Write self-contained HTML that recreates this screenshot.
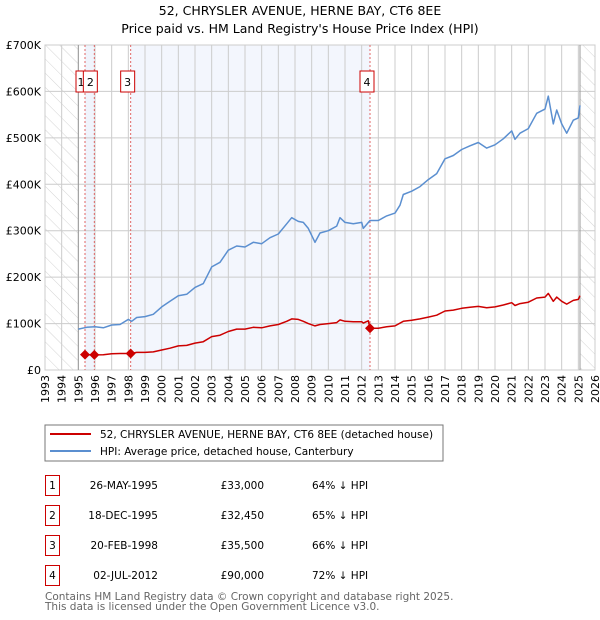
<!DOCTYPE html>
<html><head><meta charset="utf-8"><style>
body{margin:0;background:#fff;font-family:"DejaVu Sans","Liberation Sans",sans-serif;}
#wrap{position:relative;width:600px;height:620px;overflow:hidden;}
</style></head><body><div id="wrap">
<svg id="svg" width="600" height="620" xmlns="http://www.w3.org/2000/svg" font-family="DejaVu Sans, Liberation Sans, sans-serif">
<defs><pattern id="hatch" width="10" height="10" patternUnits="userSpaceOnUse" patternTransform="rotate(-45)"><line x1="0" y1="0" x2="0" y2="10" stroke="#d4d4d4" stroke-width="1"/></pattern></defs>
<text x="300" y="15" text-anchor="middle" font-size="12.5" fill="#000">52, CHRYSLER AVENUE, HERNE BAY, CT6 8EE</text>
<text x="300" y="33" text-anchor="middle" font-size="12.5" fill="#000">Price paid vs. HM Land Registry's House Price Index (HPI)</text>
<g id="plot"></g>
<rect x="45" y="425" width="398" height="36" fill="#fff" stroke="#777"/>
<line x1="50" y1="434" x2="91" y2="434" stroke="#cc0000" stroke-width="2"/>
<text x="100" y="438" font-size="10.5">52, CHRYSLER AVENUE, HERNE BAY, CT6 8EE (detached house)</text>
<line x1="50" y1="451" x2="91" y2="451" stroke="#5b8fd0" stroke-width="2"/>
<text x="100" y="455" font-size="10.5">HPI: Average price, detached house, Canterbury</text>
<g id="table" font-size="10.5"></g>
<text x="45" y="600" font-size="10.5" fill="#666">Contains HM Land Registry data © Crown copyright and database right 2025.</text>
<text x="45" y="610" font-size="10.5" fill="#666">This data is licensed under the Open Government Licence v3.0.</text>
</svg></div>
<script>
const hpiYears=[1995.0,1995.5,1996,1996.5,1997,1997.5,1998,1998.2,1998.5,1999,1999.5,2000,2000.5,2001,2001.5,2002,2002.5,2003,2003.5,2004,2004.5,2005,2005.5,2006,2006.5,2007,2007.5,2007.8,2008.2,2008.5,2008.8,2009.2,2009.5,2010,2010.5,2010.7,2011,2011.5,2012,2012.1,2012.5,2013,2013.5,2014,2014.3,2014.5,2015,2015.5,2016,2016.5,2017,2017.5,2018,2018.5,2019,2019.5,2020,2020.5,2021,2021.2,2021.5,2022,2022.5,2023,2023.2,2023.5,2023.7,2024,2024.3,2024.7,2025,2025.1];
const hpiValues=[88,92,93,91,97,98,109,105,113,115,120,136,148,160,163,178,186,222,232,258,267,265,275,272,285,293,315,328,320,318,305,275,295,300,310,328,318,315,318,305,322,322,332,338,355,378,385,395,410,423,455,462,475,483,490,478,485,498,515,497,510,520,553,562,590,530,560,530,510,538,543,570];
const priceYears=[1995.4,1995.96,1996.5,1997,1997.5,1998.14,1998.5,1999,1999.5,2000,2000.5,2001,2001.5,2002,2002.5,2003,2003.5,2004,2004.5,2005,2005.5,2006,2006.5,2007,2007.5,2007.8,2008.2,2008.5,2008.8,2009.2,2009.5,2010,2010.5,2010.7,2011,2011.5,2012,2012.1,2012.4,2012.5,2013,2013.5,2014,2014.5,2015,2015.5,2016,2016.5,2017,2017.5,2018,2018.5,2019,2019.5,2020,2020.5,2021,2021.2,2021.5,2022,2022.5,2023,2023.2,2023.5,2023.7,2024,2024.3,2024.7,2025,2025.1];
const priceValues=[33,32.5,33,35,35.5,35.5,38,38,39,43,47,52,53,58,61,72,75,83,88,88,92,91,95,98,105,110,109,105,100,95,98,100,102,108,105,104,104,101,106,90,90,93,95,105,107,110,114,118,127,129,133,135,137,134,136,140,145,139,143,146,155,157,165,148,157,148,142,150,152,160];
const saleLabels=["1","2","3","4"];
const saleYears=[1995.4,1995.96,1998.14,2012.5];
const saleValues=[33,32.45,35.5,90];
const saleDates=["26-MAY-1995","18-DEC-1995","20-FEB-1998","02-JUL-2012"];
const salePrices=["£33,000","£32,450","£35,500","£90,000"];
const saleHpi=["64% ↓ HPI","65% ↓ HPI","66% ↓ HPI","72% ↓ HPI"];
const yTicks=[0,100,200,300,400,500,600,700];
const yTickLabels=["£0","£100K","£200K","£300K","£400K","£500K","£600K","£700K"];
const xTicks=[1993,1994,1995,1996,1997,1998,1999,2000,2001,2002,2003,2004,2005,2006,2007,2008,2009,2010,2011,2012,2013,2014,2015,2016,2017,2018,2019,2020,2021,2022,2023,2024,2025,2026];

const L=45,R=595,T=45,B=370,X0=1993,X1=2026,YMAX=700;
const xs=v=>L+(v-X0)/(X1-X0)*(R-L);
const ys=v=>B-v/YMAX*(B-T);
const NS="http://www.w3.org/2000/svg";
const plot=document.getElementById('plot');
function mk(tag,attrs,parent){const e=document.createElementNS(NS,tag);for(const k in attrs)e.setAttribute(k,attrs[k]);(parent||plot).appendChild(e);return e;}

let e;
e=mk('rect',{x:xs(saleYears[0]),y:T,width:xs(saleYears[1])-xs(saleYears[0]),height:B-T,fill:'#f0f4fc'});


e=mk('rect',{x:xs(saleYears[2]),y:T,width:xs(saleYears[3])-xs(saleYears[2]),height:B-T,fill:'#f3f6fd'});


e=mk('rect',{x:L,y:T,width:xs(1995)-L,height:B-T,fill:'url(#hatch)'});


e=mk('rect',{x:xs(2025.1),y:T,width:R-xs(2025.1),height:B-T,fill:'url(#hatch)'});



xTicks.forEach((t,i)=>{
  e=mk('line',{x1:xs(t),x2:xs(t),y1:T,y2:B,stroke:'#cccccc','stroke-width':1});
  
  
  const x=xs(t),y=B+5;
  e=mk('text',{x:x+4,y:y,'font-size':11,'text-anchor':'end',transform:`rotate(-90 ${x+4} ${y})`});
  e.textContent=t;
  
  
});
yTicks.forEach((t,i)=>{
  e=mk('line',{x1:L,x2:R,y1:ys(t),y2:ys(t),stroke:'#cccccc','stroke-width':1});
  
  
  e=mk('text',{x:L-4,y:ys(t)+4,'font-size':11,'text-anchor':'end'});
  e.textContent=yTickLabels[i];
  
  
});
e=mk('rect',{x:L,y:T,width:R-L,height:B-T,fill:'none',stroke:'#cccccc'});


[1995,2025.1].forEach(v=>{
  e=mk('line',{x1:xs(v),x2:xs(v),y1:T,y2:B,stroke:'#999','stroke-width':1});
  
  
});
saleYears.forEach((v,i)=>{
  e=mk('line',{x1:xs(v),x2:xs(v),y1:T,y2:B,stroke:'#e06666','stroke-width':1,'stroke-dasharray':'2,2'});
  
  
});
function path(xsArr,vs,color,name){
  const d=xsArr.map((x,i)=>(i?'L':'M')+xs(x).toFixed(1)+','+ys(vs[i]).toFixed(1)).join('');
  e=mk('path',{d:d,fill:'none',stroke:color,'stroke-width':1.5,'stroke-linejoin':'round'});
  
  
}
path(hpiYears,hpiValues,'#5b8fd0','hpi-line');
path(priceYears,priceValues,'#cc0000','price-paid-line');
saleYears.forEach((v,i)=>{
  const cx=xs(v),cy=ys(saleValues[i]);
  e=mk('polygon',{points:`${cx},${cy-5} ${cx+5},${cy} ${cx},${cy+5} ${cx-5},${cy}`,fill:'#cc0000'});
  
  
});
saleLabels.forEach((s,i)=>{
  e=mk('rect',{x:i==1?xs(saleYears[1])-11:(i==0?xs(saleYears[0])-9:xs(saleYears[i])-10),y:71,width:i==0?9:14,height:21,fill:'#fff',stroke:'#cc0000'});
  
  
  const tx=i==1?xs(saleYears[1])-4:(i==0?xs(saleYears[0])-4:xs(saleYears[i])-3);
  e=mk('text',{x:tx,y:86,'font-size':11,'text-anchor':'middle'});
  e.textContent=s;
  
  
});
const tbl=document.getElementById('table');
saleLabels.forEach((s,i)=>{
  const y=475+i*30;
  e=mk('rect',{x:45.5,y:y+0.5,width:14,height:20,fill:'#fff',stroke:'#cc0000'},tbl);
  
  
  e=mk('text',{x:52.5,y:y+14,'text-anchor':'middle'},tbl);e.textContent=s;
  
  
  e=mk('text',{x:158,y:y+14,'text-anchor':'end'},tbl);e.textContent=saleDates[i];
  
  
  e=mk('text',{x:264,y:y+14,'text-anchor':'end'},tbl);e.textContent=salePrices[i];
  
  
  e=mk('text',{x:312,y:y+14},tbl);e.textContent=saleHpi[i];
  
  
});
</script></body></html>
